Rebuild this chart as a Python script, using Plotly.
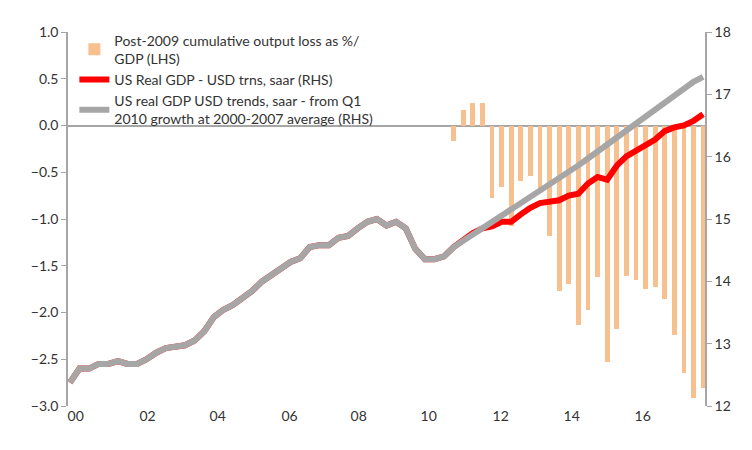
import plotly.graph_objects as go

# quarterly points, Q1 2000 .. Q3 2016 (plotted on an index axis)
real_gdp_lhs = [-2.75, -2.6, -2.6, -2.55, -2.55, -2.52, -2.55, -2.55, -2.5, -2.43,
                -2.38, -2.37, -2.35, -2.3, -2.2, -2.05, -1.97, -1.92, -1.85, -1.77,
                -1.67, -1.6, -1.53, -1.46, -1.42, -1.3, -1.28, -1.28, -1.2, -1.18,
                -1.1, -1.03, -1.0, -1.07, -1.03, -1.1, -1.32, -1.43, -1.43, -1.4,
                -1.3, -1.22, -1.15, -1.1, -1.08, -1.03, -1.03, -0.95, -0.88, -0.83,
                -0.82, -0.8, -0.75, -0.73, -0.62, -0.55, -0.58, -0.43, -0.33, -0.27,
                -0.2, -0.15, -0.06, -0.02, 0.0, 0.05, 0.12]
# convert LHS reading to USD trn (RHS scale 12..18 aligned to -3..1)
real_gdp = [round(12 + (v + 3) * 1.5, 3) for v in real_gdp_lhs]
trend = real_gdp[:40] + [14.55, 14.65, 14.74, 14.84, 14.94, 15.04, 15.14, 15.24, 15.34,
                         15.44, 15.55, 15.65, 15.76, 15.86, 15.97, 16.08, 16.19, 16.29,
                         16.40, 16.51, 16.63, 16.74, 16.85, 16.97, 17.08, 17.20, 17.28]
idx = list(range(len(real_gdp)))

loss = [-0.17, 0.17, 0.24, 0.24, -0.78, -0.66, -1.08, -0.59, -0.54, -0.70, -1.18,
        -1.77, -1.70, -2.13, -1.97, -1.62, -2.53, -2.18, -1.61, -1.65, -1.75, -1.73,
        -1.86, -2.24, -2.65, -2.91, -2.81]
loss_idx = list(range(40, 40 + len(loss)))

tick_pos = [0.6, 8.1, 15.4, 22.9, 30.1, 37.4, 44.9, 52.3, 59.7]
tick_text = ["00", "02", "04", "06", "08", "10", "12", "14", "16"]

fnt = "Lato, 'Open Sans', sans-serif"
fig = go.Figure()

fig.add_trace(go.Bar(
    x=loss_idx, y=loss, width=0.5,
    marker=dict(color="#f9c08f", line_width=0),
    name="Post-2009 cumulative output loss as %/<br>GDP (LHS)", legendgroup="a",
))
fig.add_trace(go.Scatter(
    x=idx, y=real_gdp, yaxis="y2", mode="lines",
    line=dict(color="#ff0000", width=6),
    name="US Real GDP - USD trns, saar (RHS)", legendgroup="b",
))
fig.add_trace(go.Scatter(
    x=idx, y=trend, yaxis="y2", mode="lines",
    line=dict(color="#a6a6a6", width=6),
    name="US real GDP USD trends, saar - from Q1<br>2010 growth at 2000-2007 average (RHS)",
    legendgroup="c",
))

fig.update_layout(
    width=752, height=450,
    margin=dict(l=60, r=55, t=24, b=52),
    plot_bgcolor="white", paper_bgcolor="white",
    font=dict(family=fnt, size=14, color="#333333"),
    bargap=0,
    showlegend=True,
    legend=dict(x=0.01, y=1.02, xanchor="left", yanchor="top",
                bgcolor="rgba(0,0,0,0)", font=dict(size=14, color="#333333"),
                tracegroupgap=26, traceorder="normal"),
    xaxis=dict(range=[-0.2, 66.2], tickvals=tick_pos, ticktext=tick_text,
               showgrid=False, showline=False, ticks="", zeroline=False),
    yaxis=dict(range=[-3, 1], dtick=0.5, tickformat=".1f", showgrid=False,
               showline=True, linecolor="#a6a6a6", linewidth=1.5, ticks="outside",
               tickcolor="#a6a6a6", ticklen=5, zeroline=True, zerolinecolor="#a6a6a6",
               zerolinewidth=1.5),
    yaxis2=dict(range=[12, 18], dtick=1, overlaying="y", side="right", showgrid=False,
                showline=True, linecolor="#a6a6a6", linewidth=1.5, ticks="outside",
                tickcolor="#a6a6a6", ticklen=5, zeroline=False),
)

fig.write_html("out.html")
